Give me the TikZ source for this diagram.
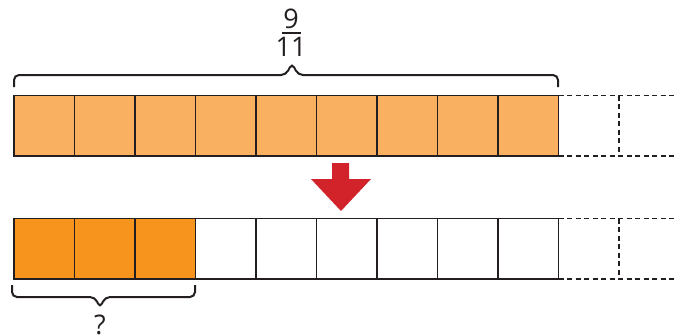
\documentclass[tikz,border=0pt]{standalone}
\usepackage{fontspec}
\setmainfont{Open Sans}
\definecolor{lightor}{HTML}{F9B061}
\definecolor{darkor}{HTML}{F7941D}
\definecolor{arrred}{HTML}{D2232A}
\definecolor{ink}{HTML}{231F20}
\begin{document}
\begin{tikzpicture}[x=1pt,y=-1pt,
  cell/.style={draw=none,minimum width=60.5pt,minimum height=60.5pt,inner sep=0pt,outer sep=0pt,anchor=north west},
  border/.style={draw=ink,line width=1.9pt},
  dline/.style={draw=ink,line width=1.6pt,dash pattern=on 5pt off 3.5pt},
  brace/.style={draw=ink,line width=2pt,rounded corners=5pt,line join=miter},
  lbl/.style={font=\fontsize{27}{30}\selectfont,text=ink,inner sep=0pt}]
\useasboundingbox (0,0) rectangle (675,335);
% top row
\foreach \i in {0,...,8}{
  \node[cell,fill=lightor] (t\i) at ({14+60.5*\i},95.5) {};
}
% bottom row
\foreach \i in {0,...,2}{
  \node[cell,fill=darkor] (b\i) at ({14+60.5*\i},218.5) {};
}
\foreach \i in {3,...,8}{
  \node[cell,fill=white] (b\i) at ({14+60.5*\i},218.5) {};
}
% borders
\foreach \i in {0,...,8}{
  \draw[border] (t\i.north west) rectangle (t\i.south east);
  \draw[border] (b\i.north west) rectangle (b\i.south east);
}
% dashed extension cells
\node[cell] (t9) at (t8.north east) {};
\coordinate (tend1) at (675,95.5);
\coordinate (tend2) at (675,156);
\draw[dline] (t8.north east) -- (tend1);
\draw[dline] (t8.south east) -- (tend2);
\draw[dline] (t9.north east) -- (t9.south east);
\node[cell] (b9) at (b8.north east) {};
\coordinate (bend1) at (675,218.5);
\coordinate (bend2) at (675,279);
\draw[dline] (b8.north east) -- (bend1);
\draw[dline] (b8.south east) -- (bend2);
\draw[dline] (b9.north east) -- (b9.south east);
% top brace
\draw[brace] (14,87) |- (286,75) -- (292,63) -- (298,75) -| (558,87);
% fraction
\node[lbl] (num) at (291,19) {9};
\node[lbl] (den) at (291,47) {11};
\draw[ink,line width=1.2pt] (282,33) -- (301,33);
% red arrow
\fill[arrred] (332,163) -- (349,163) -- (349,179) -- (371,179) -- (341,211) -- (311,179) -- (332,179) -- cycle;
% bottom brace
\draw[brace] (12,285) |- (95,297) -- (100,308) -- (105,297) -| (195,285);
\node[lbl,anchor=north] (q) at (100,315) {?};
\end{tikzpicture}
\end{document}
